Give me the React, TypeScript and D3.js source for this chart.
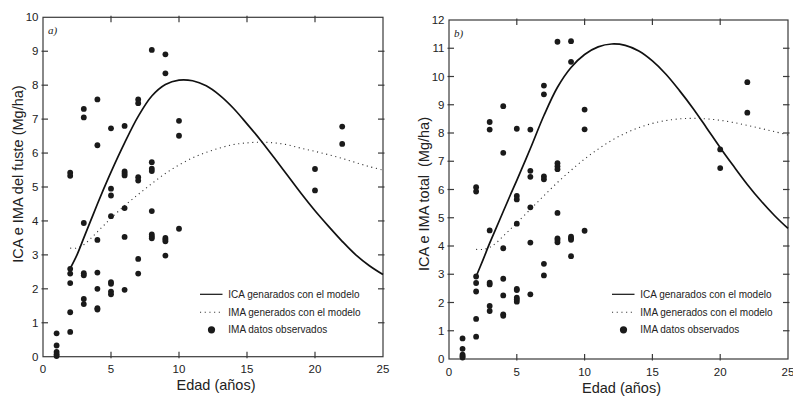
import React from 'react';
import * as d3 from 'd3';

// ---------- data ----------
const xTicks = [0, 5, 10, 15, 20, 25];
const yTicksA = [0, 1, 2, 3, 4, 5, 6, 7, 8, 9, 10];
const yTicksB = [0, 1, 2, 3, 4, 5, 6, 7, 8, 9, 10, 11, 12];

const obsAges = [1, 2, 3, 4, 5, 6, 7, 8, 9, 10, 20, 22];
const obsFuste = [
  [0.69, 0.33, 0.14, 0.07, 0.02],
  [5.42, 5.33, 2.59, 2.45, 2.17, 1.31, 0.73],
  [7.3, 7.05, 3.94, 2.46, 2.4, 1.7, 1.55],
  [7.58, 6.23, 3.44, 2.48, 2.0, 1.43, 1.39],
  [6.73, 4.95, 4.75, 4.14, 2.2, 2.15, 1.92, 1.84],
  [6.8, 5.46, 5.4, 5.34, 4.38, 3.53, 1.97],
  [7.58, 7.47, 5.29, 5.19, 2.88, 2.45],
  [9.04, 5.73, 5.54, 5.47, 4.29, 3.6, 3.54, 3.49],
  [8.91, 8.35, 3.5, 3.45, 3.4, 2.98],
  [6.95, 6.51, 3.77],
  [5.53, 4.9],
  [6.78, 6.27],
];
const obsTotal = [
  [0.73, 0.36, 0.15, 0.1, 0.05],
  [6.08, 5.93, 2.92, 2.69, 2.39, 1.42, 0.79],
  [8.39, 8.12, 4.55, 2.7, 2.64, 1.88, 1.7],
  [8.95, 7.3, 3.92, 2.84, 2.25, 1.58, 1.53],
  [8.15, 5.77, 5.65, 4.79, 2.48, 2.44, 2.17, 2.11, 2.03],
  [8.12, 6.66, 6.45, 5.37, 4.12, 2.29],
  [9.68, 9.37, 6.46, 6.36, 3.37, 2.96],
  [11.23, 6.93, 6.82, 6.72, 5.17, 4.27, 4.21, 4.13],
  [11.25, 10.52, 4.33, 4.27, 4.22, 3.64],
  [8.83, 8.13, 4.54],
  [7.42, 6.76],
  [9.8, 8.72],
];

const modelAges = [2, 2.5, 3, 3.5, 4, 4.5, 5, 6, 7, 8, 9, 10, 11, 12, 13, 14, 15, 16, 17, 18, 19, 20, 21, 22, 23, 24, 25];
const icaFuste = [2.6, 3.0, 3.5, 4.0, 4.5, 4.98, 5.44, 6.3, 7.08, 7.68, 8.02, 8.15, 8.13, 7.98, 7.7, 7.32, 6.86, 6.38, 5.86, 5.33, 4.8, 4.3, 3.84, 3.4, 3.0, 2.68, 2.42];
const imaFuste = [3.2, 3.2, 3.3, 3.48, 3.68, 3.88, 4.08, 4.45, 4.78, 5.1, 5.4, 5.65, 5.86, 6.02, 6.15, 6.25, 6.3, 6.32, 6.3, 6.24, 6.14, 6.05, 5.95, 5.84, 5.72, 5.6, 5.5];
const icaTotal = [2.92, 3.5, 4.1, 4.66, 5.22, 5.78, 6.32, 7.45, 8.62, 9.62, 10.32, 10.78, 11.05, 11.15, 11.1, 10.9, 10.55, 10.08, 9.5, 8.87, 8.18, 7.48, 6.82, 6.18, 5.6, 5.08, 4.62];
const imaTotal = [3.88, 3.88, 3.95, 4.12, 4.35, 4.58, 4.82, 5.3, 5.78, 6.25, 6.68, 7.08, 7.43, 7.74, 7.99, 8.19, 8.34, 8.44, 8.5, 8.52, 8.5, 8.45, 8.37, 8.27, 8.16, 8.05, 7.93];

const legendLabels = ['ICA genarados con el modelo', 'IMA generados con el modelo', 'IMA datos observados'];

const FONT = '"Liberation Sans", Arial, Helvetica, sans-serif';

type PanelProps = {
  x0: number; x1: number; yTop: number; yBot: number;
  yMax: number; yTicks: number[];
  obs: number[][]; ica: number[]; ima: number[];
  tag: string; yTitle: string; yTitleX: number; yTitleY: number;
  legendX: number; titleDy: number;
};

function Panel(p: PanelProps) {
  const x = d3.scaleLinear().domain([0, 25]).range([p.x0, p.x1]);
  const y = d3.scaleLinear().domain([0, p.yMax]).range([p.yBot, p.yTop]);
  const line = d3.line<number>()
    .x((_, i) => x(modelAges[i]))
    .y((d) => y(d))
    .curve(d3.curveCatmullRom.alpha(0.5));
  const axisColor = '#3a3a3a';
  const tIn = 5, tOut = 1.5;
  const points: { a: number; v: number }[] = [];
  obsAges.forEach((a, i) => p.obs[i].forEach((v) => points.push({ a, v })));
  const lx = p.legendX;
  const rowY = [294.3, 312.2, 329.8];
  return (
    <g>
      <rect x={p.x0} y={p.yTop} width={p.x1 - p.x0} height={p.yBot - p.yTop} fill="none" stroke={axisColor} strokeWidth={1.2} />
      {xTicks.map((t) => (
        <g key={'x' + t}>
          {t > 0 && t < 25 && (
            <>
              <line x1={x(t)} x2={x(t)} y1={p.yBot + tOut} y2={p.yBot - tIn} stroke={axisColor} strokeWidth={1.2} />
              <line x1={x(t)} x2={x(t)} y1={p.yTop - tOut} y2={p.yTop + tIn} stroke={axisColor} strokeWidth={1.2} />
            </>
          )}
          <text x={x(t)} y={p.yBot + 16.5} textAnchor="middle" fontSize={11.5} fontFamily={FONT} fill="#222">{t}</text>
        </g>
      ))}
      {p.yTicks.map((t) => (
        <g key={'y' + t}>
          {t > 0 && t < p.yMax && (
            <>
              <line x1={p.x0 - tOut} x2={p.x0 + tIn} y1={y(t)} y2={y(t)} stroke={axisColor} strokeWidth={1.2} />
              <line x1={p.x1 + tOut} x2={p.x1 - tIn} y1={y(t)} y2={y(t)} stroke={axisColor} strokeWidth={1.2} />
            </>
          )}
          <text x={p.x0 - 4.5} y={y(t)} dy="0.36em" textAnchor="end" fontSize={11.5} fontFamily={FONT} fill="#222">{t}</text>
        </g>
      ))}
      <text x={(p.x0 + p.x1) / 2 + 3} y={p.yBot + p.titleDy} textAnchor="middle" fontSize={14.5} fontFamily={FONT} fill="#222">Edad (años)</text>
      <text transform={`translate(${p.yTitleX},${p.yTitleY}) rotate(-90)`} textAnchor="middle" fontSize={14.5} fontFamily={FONT} fill="#222" style={{ whiteSpace: 'pre' }}>{p.yTitle}</text>
      <text x={p.x0 + 5} y={p.yTop + 17} fontSize={11} fontStyle="italic" fontFamily='"Liberation Serif", "Times New Roman", serif' fill="#222">{p.tag}</text>
      <path d={line(p.ima) || ''} fill="none" stroke="#333" strokeWidth={1.1} strokeDasharray="1.1 3.6" />
      <path d={line(p.ica) || ''} fill="none" stroke="#111" strokeWidth={1.7} />
      {points.map((d, i) => (
        <circle key={i} cx={x(d.a)} cy={y(d.v)} r={2.9} fill="#1a1a1a" />
      ))}
      <line x1={lx} x2={lx + 22.5} y1={rowY[0]} y2={rowY[0]} stroke="#111" strokeWidth={1.2} />
      <line x1={lx} x2={lx + 20} y1={rowY[1]} y2={rowY[1]} stroke="#333" strokeWidth={1.1} strokeDasharray="1.1 3.6" />
      <circle cx={lx + 11.5} cy={rowY[2]} r={3.6} fill="#1a1a1a" />
      {legendLabels.map((l, i) => (
        <text key={l} x={lx + 28.3} y={rowY[i]} dy="0.35em" fontSize={10} fontFamily={FONT} fill="#222">{l}</text>
      ))}
    </g>
  );
}

export default function App() {
  return (
    <svg width={793} height={396} style={{ position: 'absolute', left: 0, top: 0, background: '#fff' }}>
      <rect x={0} y={0} width={793} height={396} fill="#fff" />
      <Panel x0={43} x1={383} yTop={17.3} yBot={356.7} yMax={10} yTicks={yTicksA}
        obs={obsFuste} ica={icaFuste} ima={imaFuste} tag="a)"
        yTitle="ICA e IMA del fuste (Mg/ha)" yTitleX={22.5} yTitleY={174}
        legendX={200} titleDy={33.5} />
      <Panel x0={449} x1={788} yTop={20} yBot={359} yMax={12} yTicks={yTicksB}
        obs={obsTotal} ica={icaTotal} ima={imaTotal} tag="b)"
        yTitle={'ICA e IMA total  (Mg/ha)'} yTitleX={429} yTitleY={194}
        legendX={612} titleDy={34} />
    </svg>
  );
}
